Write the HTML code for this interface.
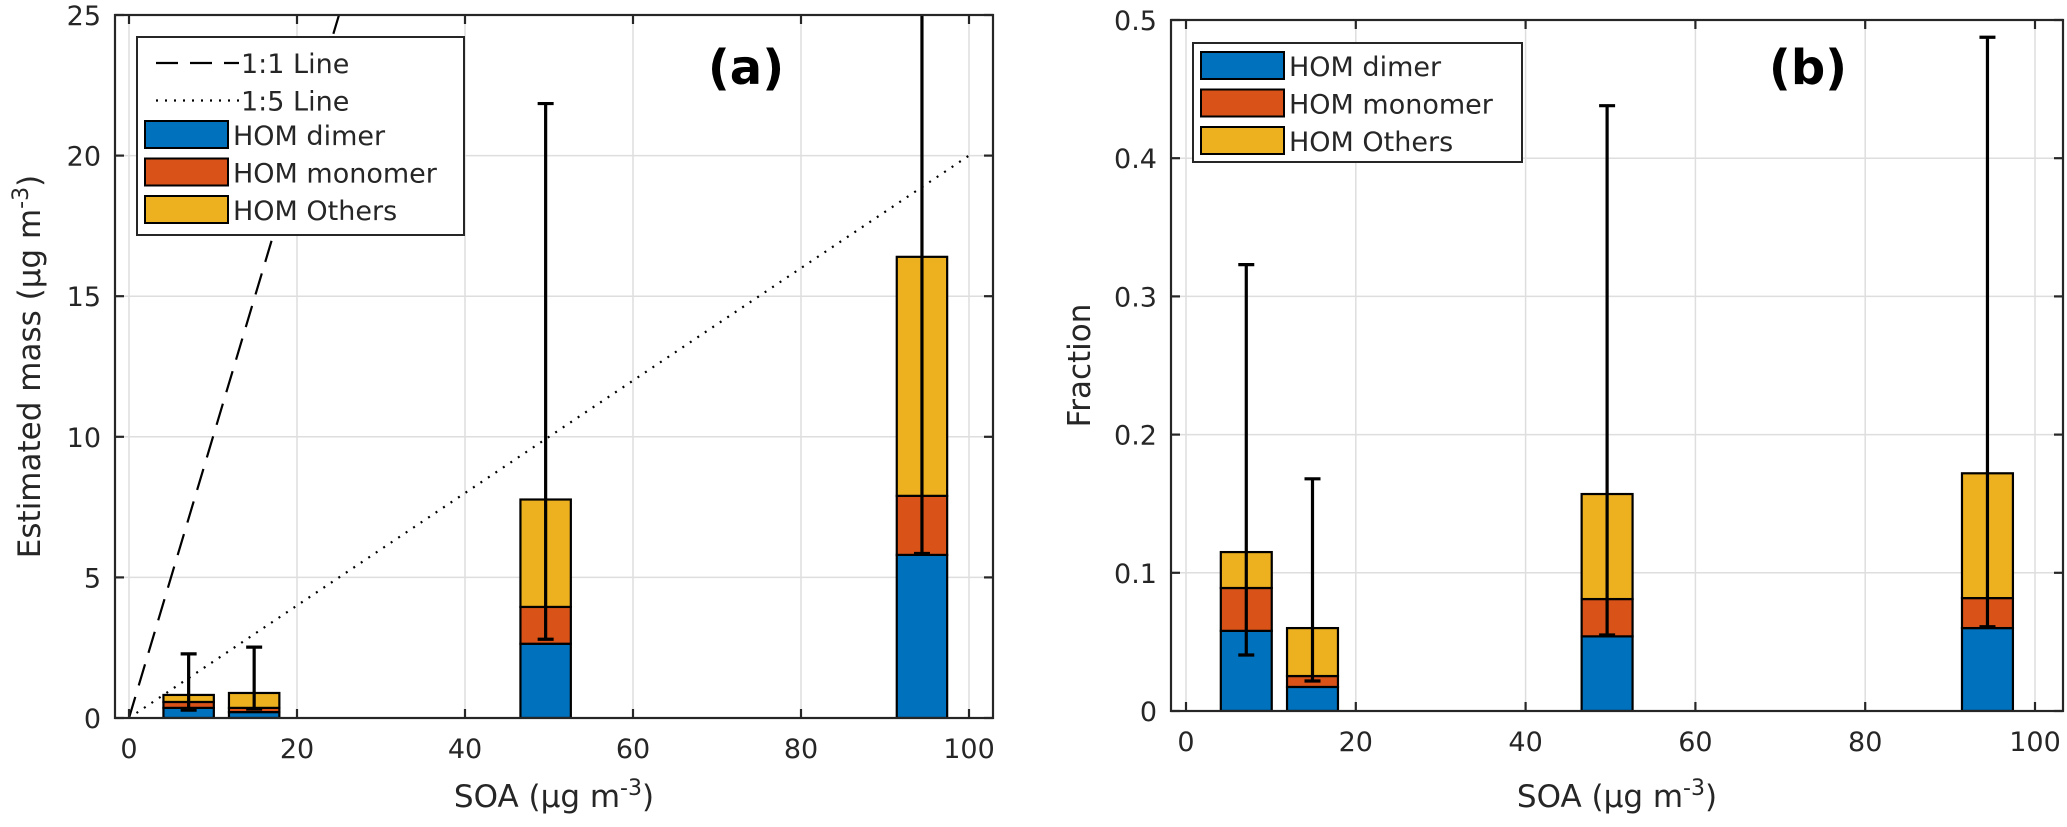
<!DOCTYPE html>
<html><head><meta charset="utf-8"><style>
html,body{margin:0;padding:0;background:#fff;}
svg{display:block;font-family:"DejaVu Sans","Liberation Sans",sans-serif;}
</style></head><body>
<svg id="fig" width="2067" height="827" viewBox="0 0 2067 827" xmlns="http://www.w3.org/2000/svg"></svg>
<script>
// shared data
const soa = [7.1, 14.9, 49.6, 94.4];
const barWidth = 6.0;
// panel (a) estimated mass (stack tops)
const massDimer = [0.36, 0.21, 2.64, 5.8];
const massMonomerTop = [0.57, 0.36, 3.95, 7.9];
const massOthersTop = [0.82, 0.89, 7.77, 16.4];
const massErrLow = [0.28, 0.32, 2.8, 5.85];
const massErrHigh = [2.28, 2.52, 21.85, 27];
const massYTicks = [0, 5, 10, 15, 20, 25];
// panel (b) fraction (stack tops)
const fracDimer = [0.058, 0.0174, 0.054, 0.060];
const fracMonomerTop = [0.089, 0.0253, 0.081, 0.0817];
const fracOthersTop = [0.115, 0.060, 0.157, 0.172];
const fracErrLow = [0.0405, 0.0217, 0.055, 0.061];
const fracErrHigh = [0.323, 0.168, 0.438, 0.4875];
const fracYTicks = [0, 0.1, 0.2, 0.3, 0.4, 0.5];
const fracYTickLabels = ["0", "0.1", "0.2", "0.3", "0.4", "0.5"];
const xTicks = [0, 20, 40, 60, 80, 100];
const refLines = [{name:"1:1 Line", slope:1, dash:"22,12"}, {name:"1:5 Line", slope:0.2, dash:"2,7"}];

const NS = "http://www.w3.org/2000/svg";
const svg = document.getElementById("fig");
function el(tag, attrs, parent, text){
  const e = document.createElementNS(NS, tag);
  for (const k in attrs) e.setAttribute(k, attrs[k]);
  if (text !== undefined) e.textContent = text;
  (parent || svg).appendChild(e);
  return e;
}
const colors = ["#0072BD", "#D95319", "#EDB120"];

function panel(cfg){
  const g = el("g", {});
  
  
  const L = cfg.L, R = cfg.R, T = cfg.T, B = cfg.B;
  const xs = v => cfg.x0 + v * cfg.kx;
  const ys = v => B - (v / cfg.ymax) * (B - T);
  const clipId = cfg.name + "-clip";
  const defs = el("defs", {}, g);
  const cp = el("clipPath", {id: clipId}, defs);
  el("rect", {x: L, y: T, width: R - L, height: B - T}, cp);
  const grid = el("g", {stroke: "#dedede", "stroke-width": 1.5}, g);
  
  
  xTicks.forEach(t => el("line", {x1: xs(t), x2: xs(t), y1: T, y2: B}, grid));
  cfg.yTicks.forEach(t => el("line", {x1: L, x2: R, y1: ys(t), y2: ys(t)}, grid));
  const plot = el("g", {"clip-path": "url(#" + clipId + ")"}, g);
  if (cfg.refLines) cfg.refLines.forEach(r => {
    const ln = el("line", {x1: xs(0), y1: ys(0), x2: xs(100), y2: ys(100 * r.slope), stroke: "#000", "stroke-width": 2.2, "stroke-dasharray": r.dash}, plot);
    
    
  });
  soa.forEach((s, i) => {
    const x1 = xs(s - barWidth / 2), w = barWidth * cfg.kx;
    const segs = [[0, cfg.dimer[i]], [cfg.dimer[i], cfg.mono[i]], [cfg.mono[i], cfg.others[i]]];
    const names = ['bar-dimer', 'bar-monomer', 'bar-others'];
    segs.forEach((sg, j) => {
      const r = el("rect", {x: x1, y: ys(sg[1]), width: w, height: ys(sg[0]) - ys(sg[1]), fill: colors[j], stroke: "#000", "stroke-width": 2.2}, plot);
      
      
    });
    const eg = el("g", {stroke: "#000", "stroke-width": 3.2}, plot);
    
    
    const cx = xs(s);
    el("line", {x1: cx, x2: cx, y1: ys(cfg.errLo[i]), y2: ys(cfg.errHi[i])}, eg);
    el("line", {x1: cx - 8, x2: cx + 8, y1: ys(cfg.errLo[i]), y2: ys(cfg.errLo[i])}, eg);
    el("line", {x1: cx - 8, x2: cx + 8, y1: ys(cfg.errHi[i]), y2: ys(cfg.errHi[i])}, eg);
  });
  const ax = el("g", {stroke: "#262626", "stroke-width": 2.2, fill: "none"}, g);
  
  
  el("rect", {x: L, y: T, width: R - L, height: B - T}, ax);
  xTicks.forEach(t => {
    el("line", {x1: xs(t), x2: xs(t), y1: B, y2: B - 9}, ax);
    el("line", {x1: xs(t), x2: xs(t), y1: T, y2: T + 9}, ax);
  });
  cfg.yTicks.forEach(t => {
    el("line", {x1: L, x2: L + 9, y1: ys(t), y2: ys(t)}, ax);
    el("line", {x1: R, x2: R - 9, y1: ys(t), y2: ys(t)}, ax);
  });
  const xl = el("g", {"font-size": 27, fill: "#262626", "text-anchor": "middle"}, g);
  
  
  xTicks.forEach(t => el("text", {x: xs(t), y: B + 40}, xl, String(t)));
  const yl = el("g", {"font-size": 27, fill: "#262626", "text-anchor": "end"}, g);
  
  
  cfg.yTicks.forEach((t, k) => el("text", {x: L - 14, y: ys(t) + 10}, yl, cfg.yLabels ? cfg.yLabels[k] : String(t)));
  const xt = el("text", {x: (L + R) / 2, y: 807, "font-size": 31, fill: "#262626", "text-anchor": "middle"}, g);
  
  
  xt.innerHTML = 'SOA (μg m<tspan dy="-12" font-size="22">-3</tspan><tspan dy="12">)</tspan>';
  const yt = el("text", {x: 0, y: 0, "font-size": 31, fill: "#262626", "text-anchor": "middle", transform: "translate(" + cfg.ytX + "," + ((T + B) / 2) + ") rotate(-90)"}, g);
  
  
  yt.innerHTML = cfg.ytitle;
  const tag = el("text", {x: cfg.tagX, y: 84, "font-size": 48, "font-weight": "bold", fill: "#000", "text-anchor": "middle"}, g, cfg.tag);
  
  
  const lg = el("g", {}, g);
  
  
  el("rect", {x: cfg.lgX, y: cfg.lgY, width: cfg.lgW, height: cfg.lgH, fill: "#fff", stroke: "#262626", "stroke-width": 2}, lg);
  let row = 0;
  const rowH = 37.5, y0 = cfg.lgY + 22;
  if (cfg.refLines) cfg.refLines.forEach(r => {
    const yy = y0 + row * rowH;
    const e = el("g", {}, lg);
    
    
    el("line", {x1: cfg.lgX + 19, x2: cfg.lgX + 102, y1: yy + 4, y2: yy + 4, stroke: "#000", "stroke-width": 2.2, "stroke-dasharray": r.dash}, e);
    el("text", {x: cfg.lgX + 104, y: yy + 14, "font-size": 27, fill: "#262626"}, e, r.name);
    row++;
  });
  ["HOM dimer", "HOM monomer", "HOM Others"].forEach((n, j) => {
    const yy = y0 + row * rowH;
    const e = el("g", {}, lg);
    
    
    el("rect", {x: cfg.lgX + 8, y: yy - 13, width: 83, height: 27, fill: colors[j], stroke: "#000", "stroke-width": 2}, e);
    el("text", {x: cfg.lgX + 96, y: yy + 11, "font-size": 27, fill: "#262626"}, e, n);
    row++;
  });
}

panel({name: "panel-a", L: 115, R: 993, T: 15, B: 718, x0: 129, kx: 8.4, ymax: 25,
  yTicks: massYTicks, dimer: massDimer, mono: massMonomerTop, others: massOthersTop,
  errLo: massErrLow, errHi: massErrHigh, refLines: refLines,
  ytitle: 'Estimated mass (μg m<tspan dy="-12" font-size="22">-3</tspan><tspan dy="12">)</tspan>', ytX: 40,
  tag: "(a)", tagX: 746, lgX: 137, lgY: 37, lgW: 327, lgH: 198});

panel({name: "panel-b", L: 1171, R: 2063, T: 20, B: 711, x0: 1186, kx: 8.49, ymax: 0.5,
  yTicks: fracYTicks, yLabels: fracYTickLabels, dimer: fracDimer, mono: fracMonomerTop, others: fracOthersTop,
  errLo: fracErrLow, errHi: fracErrHigh, refLines: null,
  ytitle: 'Fraction', ytX: 1090,
  tag: "(b)", tagX: 1808, lgX: 1193, lgY: 43, lgW: 329, lgH: 119});
</script>
</body></html>
